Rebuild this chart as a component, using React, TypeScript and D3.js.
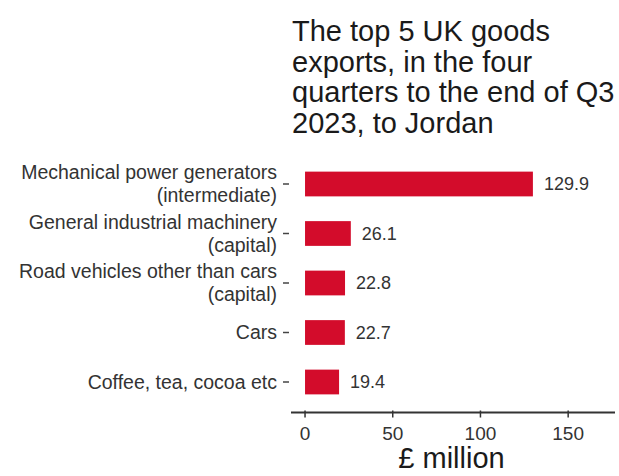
import React from "react";
import * as d3 from "d3";

const categories: string[][] = [
  ["Mechanical power generators", "(intermediate)"],
  ["General industrial machinery", "(capital)"],
  ["Road vehicles other than cars", "(capital)"],
  ["Cars"],
  ["Coffee, tea, cocoa etc"],
];
const values: number[] = [129.9, 26.1, 22.8, 22.7, 19.4];
const xTicks: number[] = [0, 50, 100, 150];
const titleLines: string[] = [
  "The top 5 UK goods",
  "exports, in the four",
  "quarters to the end of Q3",
  "2023, to Jordan",
];
const xLabel = "£ million";

const W = 619;
const H = 476;
const FONT = "'Liberation Sans', Arial, Helvetica, sans-serif";

export default function App() {
  const x = d3.scaleLinear().domain([-8, 176.7]).range([291, 615]);
  const keys = categories.map((_, i) => String(i));
  const y = d3
    .scaleBand<string>()
    .domain(keys)
    .range([159.25, 406.75])
    .paddingInner(0.5)
    .paddingOuter(0.25);
  const bw = y.bandwidth();
  const axisY = 412.5;

  return (
    <svg
      width={W}
      height={H}
      style={{ position: "absolute", left: 0, top: 0, background: "#fff" }}
      fontFamily={FONT}
    >
      {/* title */}
      {titleLines.map((t, i) => (
        <text key={i} x={292} y={41 + i * 30.5} fontSize={29} fill="#1a1a1a">
          {t}
        </text>
      ))}

      {/* bars */}
      {values.map((v, i) => {
        const yc = (y(String(i)) as number) + bw / 2;
        return (
          <g key={i}>
            <rect
              x={x(0)}
              y={y(String(i)) as number}
              width={x(v) - x(0)}
              height={bw}
              fill="#d30c2b"
            />
            <text
              x={x(v) + 11}
              y={yc}
              dy="0.35em"
              fontSize={18}
              fill="#333"
            >
              {v.toFixed(1)}
            </text>
            {/* y tick */}
            <line x1={283} x2={289} y1={yc} y2={yc} stroke="#444" strokeWidth={1.5} />
            {/* category label */}
            {categories[i].length === 1 ? (
              <text x={277} y={yc} dy="0.35em" textAnchor="end" fontSize={19.5} fill="#333">
                {categories[i][0]}
              </text>
            ) : (
              <text textAnchor="end" fontSize={19.5} fill="#333">
                <tspan x={277} y={yc - 5}>
                  {categories[i][0]}
                </tspan>
                <tspan x={277} y={yc + 18}>
                  {categories[i][1]}
                </tspan>
              </text>
            )}
          </g>
        );
      })}

      {/* x axis */}
      <line x1={x.range()[0]} x2={x.range()[1]} y1={axisY} y2={axisY} stroke="#333" strokeWidth={2} />
      {xTicks.map((t) => (
        <g key={t}>
          <line x1={x(t)} x2={x(t)} y1={axisY - 2} y2={axisY + 5} stroke="#333" strokeWidth={1.5} />
          <text x={x(t)} y={440} textAnchor="middle" fontSize={19} fill="#333">
            {t}
          </text>
        </g>
      ))}
      <text x={451.5} y={468} textAnchor="middle" fontSize={29} fill="#1a1a1a">
        {xLabel}
      </text>
    </svg>
  );
}
